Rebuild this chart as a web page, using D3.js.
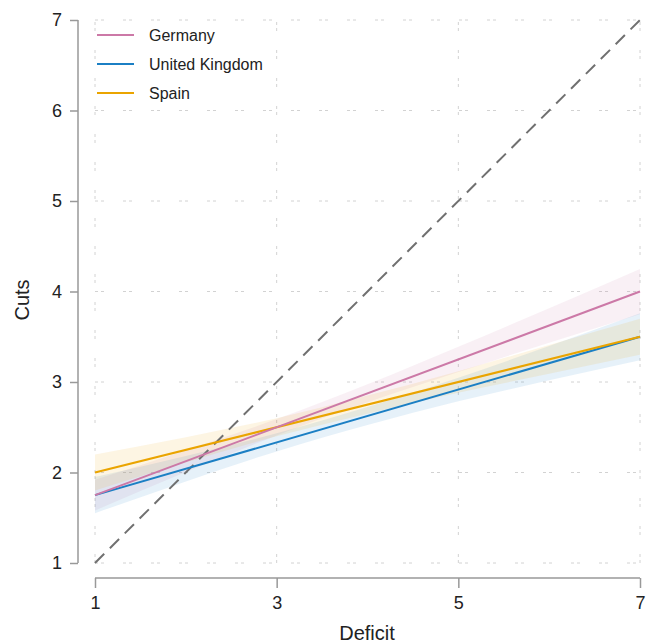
<!DOCTYPE html>
<html><head><meta charset="utf-8">
<script src="https://cdn.jsdelivr.net/npm/d3@7"></script>
<style>body{margin:0;background:#fff;} text{font-family:"Liberation Sans",Arial,sans-serif;}</style>
</head><body>
<svg id="c" width="649" height="643"></svg>
<script>
const deficit = [1,2,3,4,5,6,7];
const series = ["Germany","United Kingdom","Spain"];
const colors = ["#cc79a7","#1b7fc4","#eaa400"];
const fitStart = [1.75, 1.75, 2.0];
const fitEnd = [4.0, 3.5, 3.5];
// half-widths of confidence bands at each deficit value
const ciGermany = [0.17,0.12,0.09,0.10,0.14,0.19,0.25];
const ciUK = [0.20,0.14,0.10,0.10,0.13,0.19,0.26];
const ciSpain = [0.20,0.14,0.10,0.10,0.12,0.16,0.20];
const ciAll = [ciGermany, ciUK, ciSpain];
const xTicks = [1,3,5,7];
const yTicks = [1,2,3,4,5,6,7];

const svg = d3.select("#c");
const x = d3.scaleLinear().domain([1,7]).range([95,640]);
const y = d3.scaleLinear().domain([1,7]).range([563,20]);

// grid
const g = svg.append("g");
g.selectAll(".hg").data(yTicks).join("line")
  .attr("x1",x(1)).attr("x2",x(7)).attr("y1",d=>y(d)).attr("y2",d=>y(d))
  .attr("stroke","#d2d2d2").attr("stroke-width",1).attr("stroke-dasharray","3,3,3,19");
g.selectAll(".vg").data(xTicks).join("line")
  .attr("y1",y(1)).attr("y2",y(7)).attr("x1",d=>x(d)).attr("x2",d=>x(d))
  .attr("stroke","#d2d2d2").attr("stroke-width",1).attr("stroke-dasharray","3,3,3,19");

// bands
series.forEach((s,i)=>{
  const pts = deficit.map((d,k)=>{
    const m = fitStart[i] + (fitEnd[i]-fitStart[i])*(d-1)/6;
    return {d, lo:m-ciAll[i][k], hi:m+ciAll[i][k]};
  });
  svg.append("path").datum(pts)
    .attr("d", d3.area().x(p=>x(p.d)).y0(p=>y(p.lo)).y1(p=>y(p.hi)).curve(d3.curveMonotoneX))
    .attr("fill", colors[i]).attr("fill-opacity", 0.11);
});

// diagonal
svg.append("line").attr("x1",x(1)).attr("y1",y(1)).attr("x2",x(7)).attr("y2",y(7))
  .attr("stroke","#707070").attr("stroke-width",2).attr("stroke-dasharray","13,8");

// fit lines
[1,2,0].forEach(i=>{
  svg.append("line").attr("x1",x(1)).attr("y1",y(fitStart[i])).attr("x2",x(7)).attr("y2",y(fitEnd[i]))
    .attr("stroke",colors[i]).attr("stroke-width",2);
});

// axes
const ya = svg.append("g").attr("transform","translate(78,0)")
  .call(d3.axisLeft(y).tickValues(yTicks).tickSize(8).tickPadding(8).tickFormat(d3.format("d")));
const xa = svg.append("g").attr("transform","translate(0,578)")
  .call(d3.axisBottom(x).tickValues(xTicks).tickSize(10).tickPadding(8).tickFormat(d3.format("d")));
[ya,xa].forEach(a=>{
  a.select(".domain").attr("stroke","#999").attr("stroke-width",1.5);
  a.selectAll(".tick line").attr("stroke","#999").attr("stroke-width",1.5);
  a.selectAll(".tick text").attr("fill","#222").style("font-size","18px");
});
ya.select(".domain").attr("d","M0,"+y(7)+"V"+y(1));
xa.select(".domain").attr("d","M"+x(1)+",0H"+x(7));

svg.append("text").attr("x",367).attr("y",640).attr("text-anchor","middle")
  .style("font-size","20px").attr("fill","#222").text("Deficit");
svg.append("text").attr("transform","translate(29,300) rotate(-90)").attr("text-anchor","middle")
  .style("font-size","20px").attr("fill","#222").text("Cuts");

// legend
const lg = svg.append("g");
series.forEach((s,i)=>{
  const yy = 35 + i*29;
  lg.append("line").attr("x1",97).attr("x2",134).attr("y1",yy).attr("y2",yy)
    .attr("stroke",colors[i]).attr("stroke-width",2);
  lg.append("text").attr("x",149).attr("y",yy+6).style("font-size","16px").attr("fill","#222").text(s);
});
</script>
</body></html>
